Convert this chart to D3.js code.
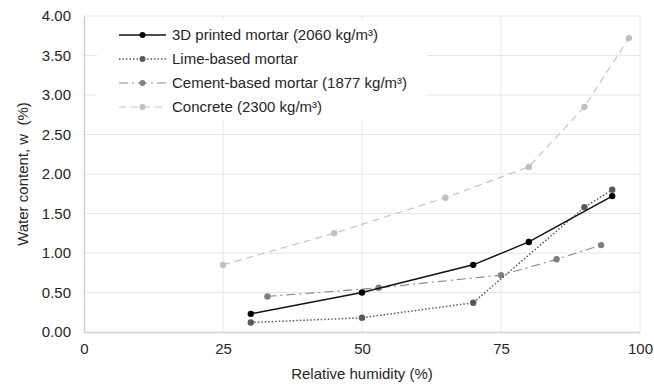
<!DOCTYPE html>
<html>
<head>
<meta charset="utf-8">
<script src="https://cdn.jsdelivr.net/npm/d3@7"></script>
<style>
  body { margin: 0; background: #fff; }
  svg { display: block; font-family: "Liberation Sans", Arial, sans-serif; }
</style>
</head>
<body>
<div id="container"></div>
<script>
// series data: [relative humidity %, water content %]
var printedMortar = [[30, 0.23], [50, 0.50], [70, 0.85], [80, 1.14], [95, 1.72]];
var limeMortar = [[30, 0.12], [50, 0.18], [70, 0.37], [90, 1.58], [95, 1.80]];
var cementMortar = [[33, 0.45], [53, 0.56], [75, 0.72], [85, 0.92], [93, 1.10]];
var concrete = [[25, 0.85], [45, 1.25], [65, 1.70], [80, 2.09], [90, 2.85], [98, 3.72]];

var seriesNames = ["3D printed mortar (2060 kg/m³)", "Lime-based mortar", "Cement-based mortar (1877 kg/m³)", "Concrete (2300 kg/m³)"];
var xTicks = [0, 25, 50, 75, 100];
var yTicks = [0, 0.5, 1, 1.5, 2, 2.5, 3, 3.5, 4];

var width = 654, height = 387;
var margin = {top: 16, right: 14, bottom: 55, left: 84};
var fontSize = 15;

var series = [
  {name: seriesNames[0], data: printedMortar, color: "#111111", marker: "#000000", dash: null, width: 1.5},
  {name: seriesNames[1], data: limeMortar, color: "#595959", marker: "#595959", dash: "1.5,2", width: 1.5},
  {name: seriesNames[2], data: cementMortar, color: "#8c8c8c", marker: "#808080", dash: "9,4,2,4", width: 1.2},
  {name: seriesNames[3], data: concrete, color: "#c4c4c4", marker: "#bfbfbf", dash: "7,5", width: 1.2}
];

var svg = d3.select("#container").append("svg")
  .attr("width", width)
  .attr("height", height);

var x = d3.scaleLinear().domain([0, 100]).range([margin.left, width - margin.right]);
var y = d3.scaleLinear().domain([0, 4]).range([height - margin.bottom, margin.top]);

// gridlines
svg.append("g").selectAll("line.hgrid")
  .data(yTicks.slice(1))
  .enter().append("line")
  .attr("x1", x(0)).attr("x2", x(100))
  .attr("y1", function(d) { return y(d); })
  .attr("y2", function(d) { return y(d); })
  .attr("stroke", "#e6e6e6").attr("stroke-width", 1);

svg.append("g").selectAll("line.vgrid")
  .data(xTicks.slice(1))
  .enter().append("line")
  .attr("x1", function(d) { return x(d); })
  .attr("x2", function(d) { return x(d); })
  .attr("y1", y(0)).attr("y2", y(4))
  .attr("stroke", "#e6e6e6").attr("stroke-width", 1);

// axes
var xAxis = d3.axisBottom(x).tickValues(xTicks).tickSize(0).tickPadding(11).tickFormat(d3.format("d"));
var yAxis = d3.axisLeft(y).tickValues(yTicks).tickSize(0).tickPadding(13).tickFormat(d3.format(".2f"));

var gx = svg.append("g").attr("transform", "translate(0," + y(0) + ")").call(xAxis);
var gy = svg.append("g").attr("transform", "translate(" + x(0) + ",0)").call(yAxis);

[gx, gy].forEach(function(g) {
  g.select(".domain").attr("stroke", "#d0d0d0").attr("stroke-width", 1.5);
  g.selectAll("text").attr("font-size", fontSize).attr("fill", "#262626")
    .attr("font-family", "'Liberation Sans', Arial, sans-serif");
});

svg.append("text")
  .attr("x", x(50)).attr("y", 379)
  .attr("text-anchor", "middle")
  .attr("font-size", fontSize).attr("fill", "#262626")
  .text("Relative humidity (%)");

svg.append("text")
  .attr("transform", "translate(28," + y(2) + ") rotate(-90)")
  .attr("text-anchor", "middle")
  .attr("font-size", fontSize).attr("fill", "#262626")
  .attr("xml:space", "preserve")
  .text("Water content, w  (%)");

// lines and markers
var line = d3.line()
  .x(function(d) { return x(d[0]); })
  .y(function(d) { return y(d[1]); });

// draw back to front: concrete first
series.slice().reverse().forEach(function(s) {
  svg.append("path")
    .datum(s.data)
    .attr("d", line)
    .attr("fill", "none")
    .attr("stroke", s.color)
    .attr("stroke-width", s.width)
    .attr("stroke-dasharray", s.dash);
  svg.append("g").selectAll("circle")
    .data(s.data)
    .enter().append("circle")
    .attr("cx", function(d) { return x(d[0]); })
    .attr("cy", function(d) { return y(d[1]); })
    .attr("r", 3.2)
    .attr("fill", s.marker);
});

// legend
var legend = svg.append("g");
legend.append("rect")
  .attr("x", 97).attr("y", 20)
  .attr("width", 330).attr("height", 100)
  .attr("fill", "#fff");

var item = legend.selectAll("g.item")
  .data(series)
  .enter().append("g")
  .attr("transform", function(d, i) { return "translate(119," + (35 + i * 24) + ")"; });

item.append("line")
  .attr("x1", 0).attr("x2", 47).attr("y1", 0).attr("y2", 0)
  .attr("stroke", function(d) { return d.color; })
  .attr("stroke-width", function(d) { return d.width; })
  .attr("stroke-dasharray", function(d) { return d.dash; });

item.append("circle")
  .attr("cx", 23.5).attr("cy", 0).attr("r", 3)
  .attr("fill", function(d) { return d.marker; });

item.append("text")
  .attr("x", 53).attr("y", 0).attr("dy", "0.35em")
  .attr("font-size", fontSize).attr("fill", "#262626")
  .text(function(d) { return d.name; });
</script>
</body>
</html>
